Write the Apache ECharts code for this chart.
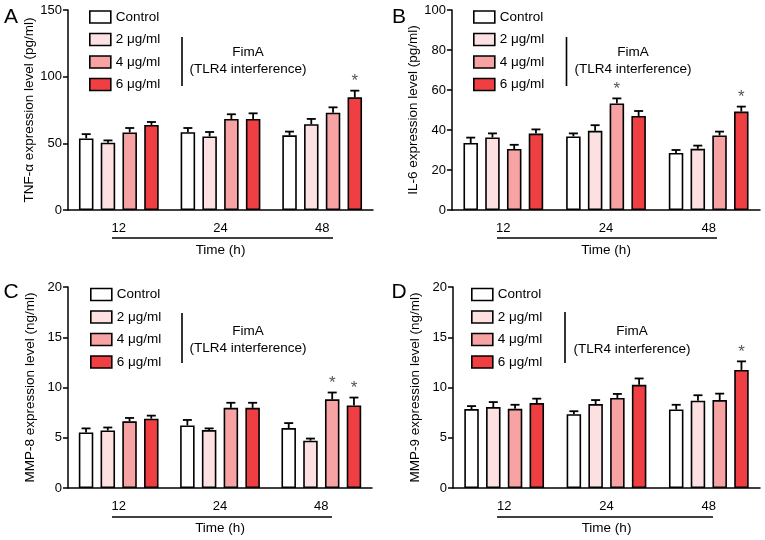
<!DOCTYPE html>
<html><head><meta charset="utf-8">
<script src="https://cdn.jsdelivr.net/npm/echarts@6/dist/echarts.min.js"></script>
<style>html,body{margin:0;padding:0;background:#fff}#c{width:765px;height:540px}</style>
</head><body><div id="c"></div>
<script>
// ---- data ----
const timeCategories = ['12', '24', '48'];
const groupNames = ['Control', '2 μg/ml', '4 μg/ml', '6 μg/ml'];
const groupColors = ['#ffffff', '#fde0e1', '#f7a3a4', '#ef3f43'];

// rows: Control, 2, 4, 6 ug/ml ; columns: 12, 24, 48 h
const tnfMean = [[53.7, 58.3, 56.0], [50.5, 55.2, 64.3], [58.2, 68.3, 73.0], [63.8, 68.3, 84.5]];
const tnfSem  = [[3.2, 3.2, 2.8], [1.7, 3.3, 4.0], [3.3, 3.5, 4.0], [2.2, 4.2, 5.0]];
const tnfSig  = [[3, 2]];

const il6Mean = [[33.5, 36.8, 28.5], [36.3, 39.6, 30.6], [30.5, 53.3, 37.3], [38.2, 47.0, 49.2]];
const il6Sem  = [[2.7, 1.5, 1.5], [2.0, 2.8, 1.6], [2.1, 2.5, 1.9], [2.1, 2.5, 2.5]];
const il6Sig  = [[2, 1], [3, 2]];

const mmp8Mean = [[5.52, 6.23, 5.96], [5.72, 5.76, 4.71], [6.63, 7.98, 8.82], [6.90, 7.98, 8.22]];
const mmp8Sem  = [[0.41, 0.54, 0.50], [0.30, 0.17, 0.21], [0.34, 0.50, 0.68], [0.30, 0.50, 0.78]];
const mmp8Sig  = [[2, 2], [3, 2]];

const mmp9Mean = [[7.85, 7.34, 7.81], [8.05, 8.35, 8.69], [7.88, 8.96, 8.75], [8.45, 10.27, 11.75]];
const mmp9Sem  = [[0.30, 0.30, 0.47], [0.50, 0.40, 0.54], [0.40, 0.40, 0.64], [0.44, 0.63, 0.85]];
const mmp9Sig  = [[3, 2]];

const yMax = [150, 100, 20, 20];
const yInterval = [50, 20, 5, 5];
const yTitles = ['TNF-α expression level (pg/ml)', 'IL-6 expression level (pg/ml)',
                 'MMP-8 expression level (ng/ml)', 'MMP-9 expression level (ng/ml)'];
const panelLetters = ['A', 'B', 'C', 'D'];
const xTitle = 'Time (h)';
const noteLine1 = 'FimA';
const noteLine2 = '(TLR4 interference)';

// ---- layout ----
const FONT = 'Liberation Sans, Arial, Helvetica, sans-serif';
const BAR_W = 14.5, GAP_PCT = 0.5;
const grids = [
  {left: 68, top: 10, width: 305, height: 200},
  {left: 452, top: 10, width: 308, height: 200},
  {left: 68, top: 287, width: 304, height: 201},
  {left: 453, top: 287, width: 307, height: 201}
];
const legendPos = [{left: 89, top: 10}, {left: 473, top: 10}, {left: 90, top: 287.5}, {left: 471, top: 287.5}];
const panels = [
  {mean: tnfMean, sem: tnfSem, sig: tnfSig},
  {mean: il6Mean, sem: il6Sem, sig: il6Sig},
  {mean: mmp8Mean, sem: mmp8Sem, sig: mmp8Sig},
  {mean: mmp9Mean, sem: mmp9Sem, sig: mmp9Sig}
];

const xAxes = [], yAxes = [], series = [], legends = [];
panels.forEach((p, i) => {
  xAxes.push({
    gridIndex: i, type: 'category', data: timeCategories,
    axisLine: {lineStyle: {color: '#000', width: 1.5}},
    axisTick: {alignWithLabel: true, length: 5, lineStyle: {color: '#000', width: 1.5}},
    axisLabel: {color: '#000', fontSize: 13, fontFamily: FONT, margin: 12},
    name: xTitle, nameLocation: 'middle', nameGap: 33,
    nameTextStyle: {color: '#000', fontSize: 13.5, fontFamily: FONT}
  });
  yAxes.push({
    gridIndex: i, type: 'value', min: 0, max: yMax[i], interval: yInterval[i],
    axisLine: {show: true, lineStyle: {color: '#000', width: 1.5}},
    axisTick: {show: true, length: 5, lineStyle: {color: '#000', width: 1.5}},
    axisLabel: {color: '#000', fontSize: 13, fontFamily: FONT, margin: 6},
    splitLine: {show: false},
    name: yTitles[i], nameLocation: 'middle', nameGap: 31, nameRotate: 90,
    nameTextStyle: {color: '#000', fontSize: 13.5, fontFamily: FONT}
  });
  p.mean.forEach((vals, s) => {
    series.push({
      type: 'bar', name: groupNames[s], xAxisIndex: i, yAxisIndex: i,
      data: vals, barWidth: BAR_W, barGap: (GAP_PCT * 100) + '%',
      itemStyle: {color: groupColors[s], borderColor: '#000', borderWidth: 1.6},
      emphasis: {disabled: true}, z: 2
    });
  });
  const errData = [];
  p.mean.forEach((vals, s) => vals.forEach((v, c) => {
    const sig = p.sig.some(q => q[0] === s && q[1] === c) ? 1 : 0;
    errData.push([c, v, p.sem[s][c], s, sig]);
  }));
  series.push({
    type: 'custom', xAxisIndex: i, yAxisIndex: i, z: 5, silent: true,
    encode: {x: 0, y: 1},
    data: errData,
    renderItem: function (params, api) {
      const c = api.value(0), m = api.value(1), e = api.value(2), s = api.value(3), sig = api.value(4);
      const base = api.coord([c, m]);
      const top = api.coord([c, m + e]);
      const gap = BAR_W * GAP_PCT;
      const total = 4 * BAR_W + 3 * gap;
      const x = base[0] - total / 2 + s * (BAR_W + gap) + BAR_W / 2;
      const children = [
        {type: 'line', shape: {x1: x, y1: base[1], x2: x, y2: top[1]}, style: {stroke: '#000', lineWidth: 1.8}},
        {type: 'line', shape: {x1: x - 4.5, y1: top[1], x2: x + 4.5, y2: top[1]}, style: {stroke: '#000', lineWidth: 1.8}}
      ];
      if (sig) {
        children.push({type: 'text', x: x, y: top[1] - 1,
          style: {text: '*', align: 'center', verticalAlign: 'bottom', fill: '#555', font: '17px ' + FONT}});
      }
      return {type: 'group', children: children};
    }
  });
  legends.push({
    data: groupNames, orient: 'vertical', left: legendPos[i].left, top: legendPos[i].top,
    itemWidth: 21, itemHeight: 12, itemGap: 8.5, icon: 'rect', selectedMode: false,
    padding: 0,
    itemStyle: {borderColor: '#000', borderWidth: 1.6},
    textStyle: {color: '#000', fontSize: 13.5, fontFamily: FONT, lineHeight: 14}
  });
});

// annotations (bracket lines, notes, panel letters)
const notes = [
  {letter: [11, 17], vline: [182, 37, 86], text: [248, 52, 69], tline: [112, 333, 238]},
  {letter: [399, 17], vline: [566.5, 37, 86], text: [633, 52, 69], tline: [497, 717, 238]},
  {letter: [11, 292], vline: [182, 313, 363], text: [248, 331, 348.5], tline: [112, 332, 517]},
  {letter: [399, 292], vline: [565, 312, 363], text: [632, 331.5, 349], tline: [497, 713, 517]}
];
const graphics = [];
notes.forEach((n, i) => {
  graphics.push({type: 'text', x: n.letter[0], y: n.letter[1],
    style: {text: panelLetters[i], align: 'center', verticalAlign: 'middle', fill: '#000', font: '21px ' + FONT}});
  graphics.push({type: 'line', shape: {x1: n.vline[0], y1: n.vline[1], x2: n.vline[0], y2: n.vline[2]},
    style: {stroke: '#000', lineWidth: 1.6}});
  graphics.push({type: 'text', x: n.text[0], y: n.text[1],
    style: {text: noteLine1, align: 'center', verticalAlign: 'middle', fill: '#000', font: '13.5px ' + FONT}});
  graphics.push({type: 'text', x: n.text[0], y: n.text[2],
    style: {text: noteLine2, align: 'center', verticalAlign: 'middle', fill: '#000', font: '13.5px ' + FONT}});
  graphics.push({type: 'line', shape: {x1: n.tline[0], y1: n.tline[2], x2: n.tline[1], y2: n.tline[2]},
    style: {stroke: '#000', lineWidth: 1.5}});
});

const chart = echarts.init(document.getElementById('c'), null, {renderer: 'canvas'});
chart.setOption({
  animation: false,
  backgroundColor: '#fff',
  textStyle: {fontFamily: FONT},
  grid: grids,
  xAxis: xAxes,
  yAxis: yAxes,
  legend: legends,
  series: series,
  graphic: graphics
});
</script></body></html>
